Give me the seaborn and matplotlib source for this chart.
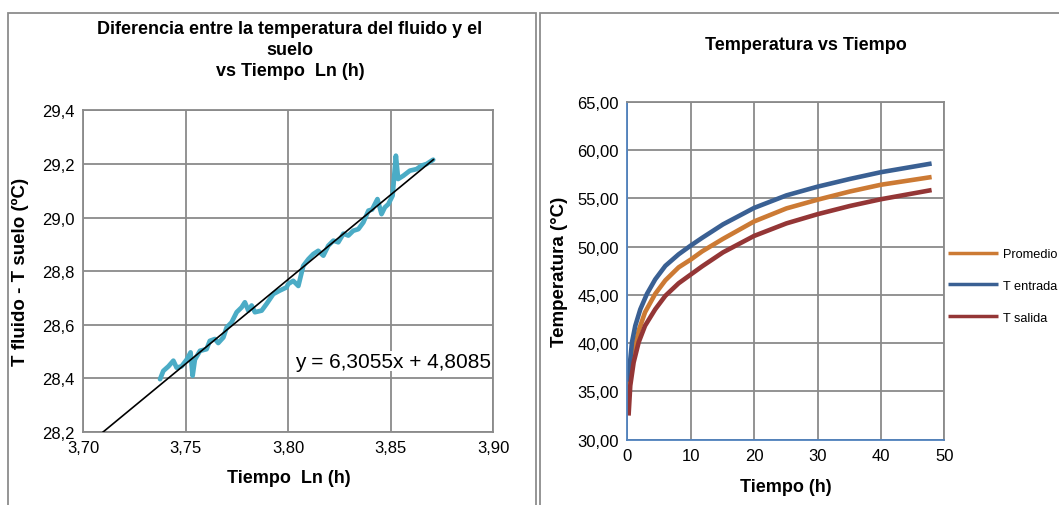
import numpy as np
import pandas as pd
import matplotlib
matplotlib.use("Agg")
import matplotlib.pyplot as plt
from matplotlib.patches import Rectangle
from matplotlib.ticker import FuncFormatter
import seaborn as sns

# ---------------- data ----------------
# Left chart: T fluido - T suelo vs ln(t)
ln_t = [3.7375, 3.7391, 3.7416, 3.7440, 3.7456, 3.7480, 3.7505, 3.7524, 3.7534, 3.7545,
        3.7570, 3.7602, 3.7618, 3.7643, 3.7659, 3.7684, 3.7700, 3.7724, 3.7749, 3.7773,
        3.7789, 3.7806, 3.7822, 3.7838, 3.7871, 3.7895, 3.7928, 3.7960, 3.7993, 3.8000,
        3.8025, 3.8050, 3.8074, 3.8099, 3.8123, 3.8147, 3.8172, 3.8196, 3.8221, 3.8245,
        3.8270, 3.8294, 3.8318, 3.8343, 3.8367, 3.8392, 3.8410, 3.8436, 3.8456, 3.8472,
        3.8489, 3.8510, 3.8526, 3.8537, 3.8562, 3.8594, 3.8627, 3.8651, 3.8676, 3.8708]
dT = [28.397, 28.428, 28.445, 28.466, 28.440, 28.445, 28.470, 28.497, 28.410, 28.470,
      28.503, 28.509, 28.540, 28.547, 28.532, 28.553, 28.590, 28.609, 28.647, 28.665,
      28.684, 28.653, 28.672, 28.647, 28.653, 28.678, 28.715, 28.728, 28.740, 28.752,
      28.764, 28.745, 28.820, 28.845, 28.864, 28.876, 28.858, 28.895, 28.914, 28.908,
      28.940, 28.933, 28.951, 28.957, 28.982, 29.026, 29.030, 29.069, 29.013, 29.038,
      29.050, 29.082, 29.231, 29.144, 29.156, 29.175, 29.181, 29.194, 29.200, 29.216]
trend_slope = 6.3055
trend_intercept = 4.8085
trend_x = [3.70, 3.871]
left_xticks = [3.70, 3.75, 3.80, 3.85, 3.90]
left_yticks = [28.2, 28.4, 28.6, 28.8, 29.0, 29.2, 29.4]

# Right chart: temperatures vs time (h)
t_entrada = [0.2, 0.32, 0.74, 1.26, 2.05, 3.1, 4.4, 6.0, 8.1, 10.0, 11.8, 15.1, 20.0,
             25.1, 30.0, 35.1, 40.0, 48.0]
T_entrada = [36.0, 37.3, 40.1, 41.8, 43.5, 45.1, 46.6, 48.0, 49.2, 50.1, 50.9, 52.3, 54.0,
             55.3, 56.2, 57.0, 57.7, 58.6]
t_prom = [0.2, 0.47, 1.0, 1.8, 2.8, 4.4, 6.0, 8.1, 10.0, 11.8, 15.1, 20.0, 25.1, 30.0,
          35.1, 40.0, 48.0]
T_prom = [34.5, 37.0, 39.0, 41.3, 43.2, 45.1, 46.5, 47.85, 48.65, 49.5, 50.8, 52.6, 53.95,
          54.85, 55.7, 56.4, 57.2]
t_salida = [0.2, 0.47, 1.0, 1.8, 2.8, 4.4, 6.0, 8.1, 10.0, 11.8, 15.1, 20.0, 25.1, 30.0,
            35.1, 40.0, 48.0]
T_salida = [32.5, 35.6, 38.0, 40.1, 41.8, 43.5, 44.9, 46.2, 47.1, 47.95, 49.4, 51.1, 52.4,
            53.35, 54.2, 54.9, 55.85]
series_names = ["Promedio", "T entrada", "T salida"]
right_xticks = [0, 10, 20, 30, 40, 50]
right_yticks = [30, 35, 40, 45, 50, 55, 60, 65]

# ---------------- style ----------------
sns.set_theme(style="white")
plt.rcParams["font.family"] = ["Liberation Sans", "DejaVu Sans"]
plt.rcParams.update({"text.color": "black", "axes.labelcolor": "black",
                     "xtick.color": "black", "ytick.color": "black"})

W, H = 1059, 506
fig = plt.figure(figsize=(W / 100, H / 100), dpi=100)

def fx(px):
    return px / W

def fy(py):
    return 1 - py / H

# panel borders
fig.patches.append(Rectangle((fx(8), fy(520)), fx(536) - fx(8), fy(14) - fy(520),
                             transform=fig.transFigure, fill=False, ec="#8c8c8c", lw=1.3))
fig.patches.append(Rectangle((fx(540), fy(520)), fx(1070) - fx(540), fy(14) - fy(520),
                             transform=fig.transFigure, fill=False, ec="#8c8c8c", lw=1.3))

grid_c = "#8a8a8a"
tick_fs = 12
lab_fs = 13

# ---------------- left chart ----------------
axL = fig.add_axes([fx(83.2), fy(433), fx(493) - fx(83.2), fy(111.4) - fy(433)])
df_left = pd.DataFrame({"x": ln_t, "y": dT})
sns.lineplot(data=df_left, x="x", y="y", ax=axL, sort=False, estimator=None,
             color="#4bacc6", lw=3.4, solid_joinstyle="round", zorder=3)
tx = np.array(trend_x)
df_trend = pd.DataFrame({"x": tx, "y": trend_slope * tx + trend_intercept})
sns.lineplot(data=df_trend, x="x", y="y", ax=axL, color="black", lw=1.2, zorder=4)
axL.set_xlim(3.70, 3.90)
axL.set_ylim(28.2, 29.4)
axL.set_xticks(left_xticks)
axL.set_yticks(left_yticks)
axL.xaxis.set_major_formatter(FuncFormatter(lambda v, p: f"{v:.2f}".replace(".", ",")))
axL.yaxis.set_major_formatter(FuncFormatter(lambda v, p: f"{v:.1f}".replace(".", ",")))
axL.grid(True, color=grid_c, lw=1.3)
for s in axL.spines.values():
    s.set_color(grid_c)
    s.set_linewidth(1.3)
axL.tick_params(axis="both", direction="out", length=4, width=1.2, color=grid_c,
                labelsize=tick_fs, pad=2)
axL.set_xlabel("")
axL.set_ylabel("")
axL.text(0.995, 0.22, "y = 6,3055x + 4,8085", transform=axL.transAxes, ha="right",
         va="center", fontsize=15, color="black", zorder=5,
         bbox=dict(fc="white", ec="none", pad=0.5))

fig.text(fx(290), fy(21), "Diferencia entre la temperatura del fluido y el\nsuelo\nvs Tiempo  Ln (h)",
         ha="center", va="top", fontsize=lab_fs, fontweight="bold", linespacing=1.3)
fig.text(fx(289), fy(479), "Tiempo  Ln (h)", ha="center", va="center",
         fontsize=lab_fs, fontweight="bold")
fig.text(fx(20), fy(272), "T fluido - T suelo (ºC)", ha="center", va="center",
         rotation=90, fontsize=13.5, fontweight="bold")

# ---------------- right chart ----------------
axR = fig.add_axes([fx(627.3), fy(440.7), fx(944.3) - fx(627.3), fy(102.7) - fy(440.7)])
df_right = pd.concat([
    pd.DataFrame({"t": t_prom, "T": T_prom, "serie": series_names[0]}),
    pd.DataFrame({"t": t_entrada, "T": T_entrada, "serie": series_names[1]}),
    pd.DataFrame({"t": t_salida, "T": T_salida, "serie": series_names[2]}),
])
palette = {"Promedio": "#cc7a34", "T entrada": "#3a6093", "T salida": "#943636"}
sns.lineplot(data=df_right, x="t", y="T", hue="serie", palette=palette, ax=axR,
             lw=3.3, sort=False, estimator=None, solid_capstyle="butt",
             solid_joinstyle="round")
axR.set_xlim(0, 50)
axR.set_ylim(30, 65)
axR.set_xticks(right_xticks)
axR.set_yticks(right_yticks)
axR.yaxis.set_major_formatter(FuncFormatter(lambda v, p: f"{v:.2f}".replace(".", ",")))
axR.grid(True, color=grid_c, lw=1.3)
for k, s in axR.spines.items():
    s.set_color(grid_c)
    s.set_linewidth(1.3)
axR.spines["left"].set_color("#4f81bd")
axR.spines["bottom"].set_color("#4f81bd")
axR.tick_params(axis="both", direction="out", length=4, width=1.2, color="#4f81bd",
                labelsize=tick_fs, pad=2)
axR.set_xlabel("")
axR.set_ylabel("")
leg = axR.legend(loc="center left", bbox_to_anchor=(0.995, 0.455), frameon=False,
                 fontsize=9.2, handlelength=3.9, labelspacing=1.55, handletextpad=0.4,
                 borderaxespad=0)
for line in leg.get_lines():
    line.set_linewidth(2.5)
leg.set_title(None)

fig.text(fx(806), fy(46), "Temperatura vs Tiempo", ha="center", va="center",
         fontsize=lab_fs, fontweight="bold")
fig.text(fx(786), fy(488), "Tiempo (h)", ha="center", va="center",
         fontsize=lab_fs, fontweight="bold")
fig.text(fx(560), fy(272), "Temperatura (°C)", ha="center", va="center",
         rotation=90, fontsize=13.5, fontweight="bold")

fig.savefig("out.png", dpi=100)
